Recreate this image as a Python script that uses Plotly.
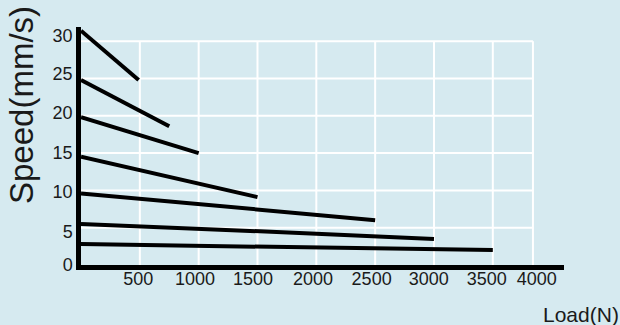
import plotly.graph_objects as go

# ---- data ----
load_1 = [0, 490]
speed_1 = [31.4, 24.8]
load_2 = [0, 750]
speed_2 = [24.8, 18.6]
load_3 = [0, 1000]
speed_3 = [19.8, 15.0]
load_4 = [0, 500, 1000, 1500]
speed_4 = [14.5, 12.7, 10.9, 9.1]
load_5 = [0, 1000, 1500, 2000, 2500]
speed_5 = [9.6, 8.2, 7.4, 6.7, 6.0]
load_6 = [0, 1500, 2000, 3000]
speed_6 = [5.5, 4.6, 4.2, 3.5]
load_7 = [0, 2000, 3500]
speed_7 = [2.8, 2.3, 2.0]

# grid lines (as drawn in the reference; the last one is labelled 4000)
x_grid_vals = [500, 1000, 1500, 2000, 2500, 3000, 3500, 3841]
y_grid_vals = [5, 10, 15, 20, 25, 30]
# tick labels and where the reference prints them
x_tick_text = ["500", "1000", "1500", "2000", "2500", "3000", "3500", "4000"]
x_tick_pos = [487, 969, 1462, 1972, 2470, 2956, 3448, 3873]
y_tick_text = ["0", "5", "10", "15", "20", "25", "30"]
y_tick_pos = [0, 4.4, 9.8, 15.1, 20.4, 25.7, 30.8]

BG = "#d6eaf0"
FONT = "Liberation Sans, Arial, sans-serif"

fig = go.Figure()
series = [(load_1, speed_1), (load_2, speed_2), (load_3, speed_3),
          (load_4, speed_4), (load_5, speed_5), (load_6, speed_6),
          (load_7, speed_7)]
for xs, ys in series:
    fig.add_trace(go.Scatter(x=xs, y=ys, mode="lines",
                             line=dict(color="black", width=4),
                             showlegend=False, hoverinfo="skip"))

x_max_grid = x_grid_vals[-1]
y_max_grid = y_grid_vals[-1]
for xv in x_grid_vals:
    fig.add_shape(type="line", x0=xv, x1=xv, y0=0, y1=y_max_grid,
                  xref="x", yref="y", layer="below",
                  line=dict(color="white", width=2))
for yv in y_grid_vals:
    fig.add_shape(type="line", x0=0, x1=x_max_grid, y0=yv, y1=yv,
                  xref="x", yref="y", layer="below",
                  line=dict(color="white", width=2))

fig.update_xaxes(range=[0, 4105], showgrid=False, zeroline=False,
                 showline=True, linecolor="black", linewidth=4.5,
                 tickmode="array", tickvals=x_tick_pos, ticktext=x_tick_text,
                 ticks="", ticklabelstandoff=-6,
                 tickfont=dict(size=18, color="#1a1a1a", family=FONT))
fig.update_yaxes(range=[0, 31.9], showgrid=False, zeroline=False,
                 showline=True, linecolor="black", linewidth=4.5,
                 tickmode="array", tickvals=y_tick_pos, ticktext=y_tick_text,
                 ticks="",
                 tickfont=dict(size=18, color="#1a1a1a", family=FONT))

fig.add_annotation(text="Speed(mm/s)", textangle=-90, showarrow=False,
                   xref="paper", yref="paper",
                   x=(22 - 81) / 483, y=(265 - 105) / 238,
                   xanchor="center", yanchor="middle",
                   font=dict(size=33, color="#1a1a1a", family=FONT))
fig.add_annotation(text="Load(N)", showarrow=False,
                   xref="paper", yref="paper",
                   x=(581 - 81) / 483, y=(265 - 314) / 238,
                   xanchor="center", yanchor="middle",
                   font=dict(size=21, color="#1a1a1a", family=FONT))

fig.update_layout(width=620, height=325,
                  margin=dict(l=81, r=56, t=27, b=60),
                  paper_bgcolor=BG, plot_bgcolor=BG,
                  font=dict(family=FONT))

fig.write_html("out.html", config={"displayModeBar": False},
               post_script="document.body.style.margin='0';"
                           "document.body.style.background='" + BG + "';")
